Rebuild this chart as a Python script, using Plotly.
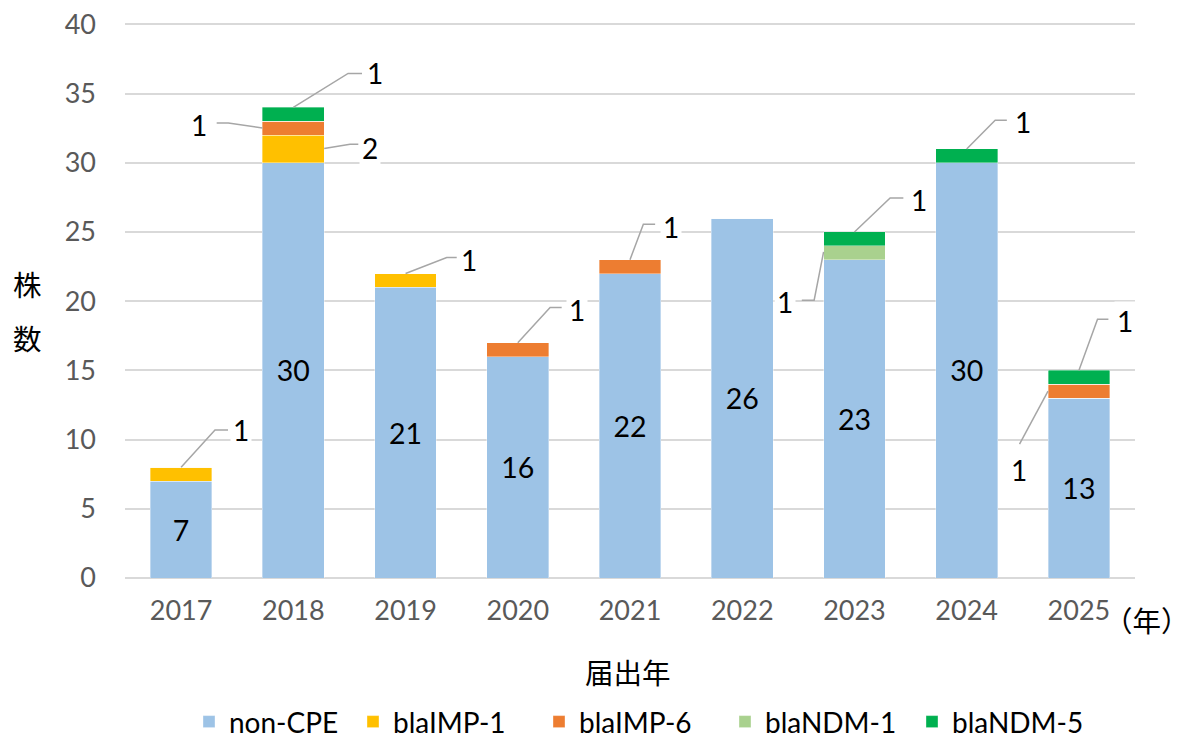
import plotly.graph_objects as go

# ---- data ----
years = ["2017", "2018", "2019", "2020", "2021", "2022", "2023", "2024", "2025"]
non_cpe = [7, 30, 21, 16, 22, 26, 23, 30, 13]
bla_imp1 = [1, 2, 1, 0, 0, 0, 0, 0, 0]
bla_imp6 = [0, 1, 0, 1, 1, 0, 0, 0, 1]
bla_ndm1 = [0, 0, 0, 0, 0, 0, 1, 0, 0]
bla_ndm5 = [0, 1, 0, 0, 0, 0, 1, 1, 1]
y_ticks = [0, 5, 10, 15, 20, 25, 30, 35, 40]

series = [
    ("non-CPE", non_cpe, "#9DC3E6"),
    ("blaIMP-1", bla_imp1, "#FFC000"),
    ("blaIMP-6", bla_imp6, "#ED7D31"),
    ("blaNDM-1", bla_ndm1, "#A9D18E"),
    ("blaNDM-5", bla_ndm5, "#00B050"),
]
vals = {name: v for name, v, _ in series}

# callout layout: (series, year index, leader-line path points (x idx, y), label position)
callouts = [
    ("blaIMP-1", 0, [(0.0, 8.0), (0.302, 10.69), (0.418, 10.69)], (0.534, 10.69)),
    ("blaNDM-5", 1, [(1.0, 34.0), (1.488, 36.46), (1.612, 36.46)], (1.728, 36.46)),
    ("blaIMP-6", 1, [(0.725, 32.51), (0.421, 32.87), (0.317, 32.87)], (0.162, 32.7)),
    ("blaIMP-1", 1, [(1.275, 31.03), (1.505, 31.34), (1.579, 31.34)], (1.684, 31.1)),
    ("blaIMP-1", 2, [(2.0, 22.0), (2.367, 23.15), (2.456, 23.15)], (2.569, 23.0)),
    ("blaIMP-6", 3, [(3.0, 17.0), (3.288, 19.55), (3.391, 19.55)], (3.531, 19.35)),
    ("blaIMP-6", 4, [(4.0, 23.0), (4.119, 25.56), (4.224, 25.56)], (4.364, 25.36)),
    ("blaNDM-5", 6, [(6.0, 25.0), (6.318, 27.46), (6.436, 27.46)], (6.571, 27.3)),
    ("blaNDM-1", 6, [(5.725, 23.56), (5.641, 20.07), (5.531, 20.07)], (5.382, 19.95)),
    ("blaNDM-5", 7, [(7.0, 31.0), (7.254, 33.07), (7.358, 33.07)], (7.501, 32.95)),
    ("blaNDM-5", 8, [(8.0, 15.0), (8.166, 18.7), (8.263, 18.7)], (8.413, 18.58)),
    ("blaIMP-6", 8, [(7.725, 13.5), (7.471, 9.68)], (7.462, 7.8)),
]

FONT = "Lato, 'Noto Sans CJK JP', sans-serif"
CJK = "'Noto Sans CJK JP', sans-serif"
xs = list(range(len(years)))

# page body has an 8px margin; figure is shifted by that amount
OFF = 8
W, H = 1191 - OFF, 739 - OFF
YMAX = 40.1
# plot area in reference pixels (value 40 lands at y=24, 0 at y=578)
PL, PR, PB = 125, 1135, 578
PT = PB - (PB - 24) * YMAX / 40
# legend entry left edges (reference pixels)
LEG_X = [203, 367, 553, 739, 926]
LEG_Y = 722


def px2paper(px, py):
    return (px - PL) / (PR - PL), (PB - py) / (PB - PT)


fig = go.Figure()
for k, (name, v, color) in enumerate(series):
    kw = {}
    if name == "non-CPE":
        kw = dict(text=[str(a) for a in v], textposition="inside",
                  insidetextanchor="middle",
                  textfont=dict(color="black", size=28.5, family=FONT))
    fig.add_trace(go.Bar(
        x=xs, y=v, name=name, legend="legend" if k == 0 else f"legend{k + 1}",
        marker=dict(color=color, line=dict(width=0.6, color="rgba(255,255,255,0.6)")),
        width=0.55, hoverinfo="skip", **kw))

annotations = []
for name, i, pts, lab in callouts:
    fig.add_trace(go.Scatter(
        x=[p[0] for p in pts], y=[p[1] for p in pts], mode="lines",
        line=dict(color="#A6A6A6", width=1.5), showlegend=False, hoverinfo="skip"))
    annotations.append(dict(
        x=lab[0], y=lab[1], xref="x", yref="y", text=str(vals[name][i]),
        xanchor="center", yanchor="middle",
        showarrow=False, font=dict(size=28, color="black", family=FONT),
        bgcolor="white", borderpad=2))

for txt, (px, py) in [("株", (27, 283)), ("数", (27, 337)),
                      ("届出年", (628, 672)), ("（年）", (1147, 620))]:
    ax, ay = px2paper(px, py)
    annotations.append(dict(x=ax, y=ay, xref="paper", yref="paper", text=txt,
                            xanchor="center", yanchor="middle",
                            showarrow=False, font=dict(size=28.5, color="black", family=CJK)))

legends = {}
for k, lxp in enumerate(LEG_X):
    lx, ly = px2paper(lxp - 14, LEG_Y)
    legends["legend" if k == 0 else f"legend{k + 1}"] = dict(
        orientation="h", x=lx, xanchor="left", y=ly, yanchor="middle",
        font=dict(size=28, color="black", family=FONT), itemwidth=30,
        bgcolor="rgba(0,0,0,0)")

fig.update_layout(
    barmode="stack",
    width=W, height=H,
    margin=dict(l=PL - OFF, r=W - (PR - OFF), t=PT - OFF, b=H - (PB - OFF), autoexpand=False),
    plot_bgcolor="white", paper_bgcolor="white",
    font=dict(family=FONT, size=25, color="black"),
    annotations=annotations,
    showlegend=True,
    xaxis=dict(range=[-0.5, 8.5], tickvals=xs, ticktext=years, showgrid=False,
               zeroline=False, showline=False, ticks="", automargin=False,
               tickfont=dict(size=27, color="#595959", family=FONT),
               ticklabelstandoff=14, ticklabeloverflow="allow"),
    yaxis=dict(range=[0, YMAX], tickvals=y_ticks,
               showgrid=True, gridcolor="#D9D9D9", gridwidth=1.5,
               zeroline=True, zerolinecolor="#D9D9D9", zerolinewidth=1.5,
               showline=False, ticks="", automargin=False,
               tickfont=dict(size=27, color="#595959", family=FONT),
               ticklabelstandoff=28, ticklabeloverflow="allow"),
    **legends,
)

fig.write_html("out.html")
